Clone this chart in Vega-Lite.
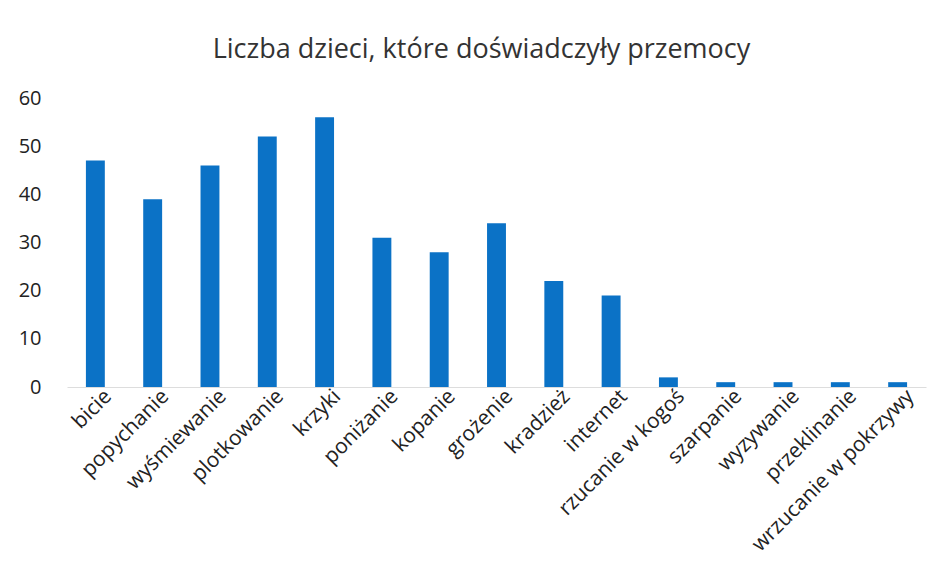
{
  "$schema": "https://vega.github.io/schema/vega-lite/v6.json",
  "autosize": "none",
  "width": 859,
  "height": 289,
  "padding": {"left": 67, "top": 98, "right": 18, "bottom": 194},
  "background": "white",
  "title": {
    "text": "Liczba dzieci, które doświadczyły przemocy",
    "font": "Open Sans",
    "fontSize": 27,
    "fontWeight": "normal",
    "color": "#333333",
    "anchor": "middle",
    "dx": -15,
    "offset": 24
  },
  "data": {
    "values": [
      {"kategoria": "bicie", "liczba": 47},
      {"kategoria": "popychanie", "liczba": 39},
      {"kategoria": "wyśmiewanie", "liczba": 46},
      {"kategoria": "plotkowanie", "liczba": 52},
      {"kategoria": "krzyki", "liczba": 56},
      {"kategoria": "poniżanie", "liczba": 31},
      {"kategoria": "kopanie", "liczba": 28},
      {"kategoria": "grożenie", "liczba": 34},
      {"kategoria": "kradzież", "liczba": 22},
      {"kategoria": "internet", "liczba": 19},
      {"kategoria": "rzucanie w kogoś", "liczba": 2},
      {"kategoria": "szarpanie", "liczba": 1},
      {"kategoria": "wyzywanie", "liczba": 1},
      {"kategoria": "przeklinanie", "liczba": 1},
      {"kategoria": "wrzucanie w pokrzywy", "liczba": 1}
    ]
  },
  "mark": {"type": "bar", "color": "#0b72c6"},
  "encoding": {
    "x": {
      "field": "kategoria",
      "type": "nominal",
      "sort": null,
      "scale": {"paddingInner": 0.67, "paddingOuter": 0.33},
      "axis": {
        "title": null,
        "labelAngle": -45,
        "labelAlign": "right",
        "labelBaseline": "middle",
        "labelFont": "Open Sans",
        "labelFontSize": 21,
        "labelColor": "#222222",
        "labelOffset": 13,
        "labelPadding": 6,
        "ticks": false,
        "domainColor": "#dddddd",
        "labelLimit": 300
      }
    },
    "y": {
      "field": "liczba",
      "type": "quantitative",
      "scale": {"domain": [0, 60]},
      "axis": {
        "title": null,
        "values": [0, 10, 20, 30, 40, 50, 60],
        "grid": false,
        "domain": false,
        "ticks": false,
        "labelFont": "Open Sans",
        "labelFontSize": 20,
        "labelColor": "#222222",
        "labelPadding": 26
      }
    }
  },
  "config": {"view": {"stroke": null}}
}
